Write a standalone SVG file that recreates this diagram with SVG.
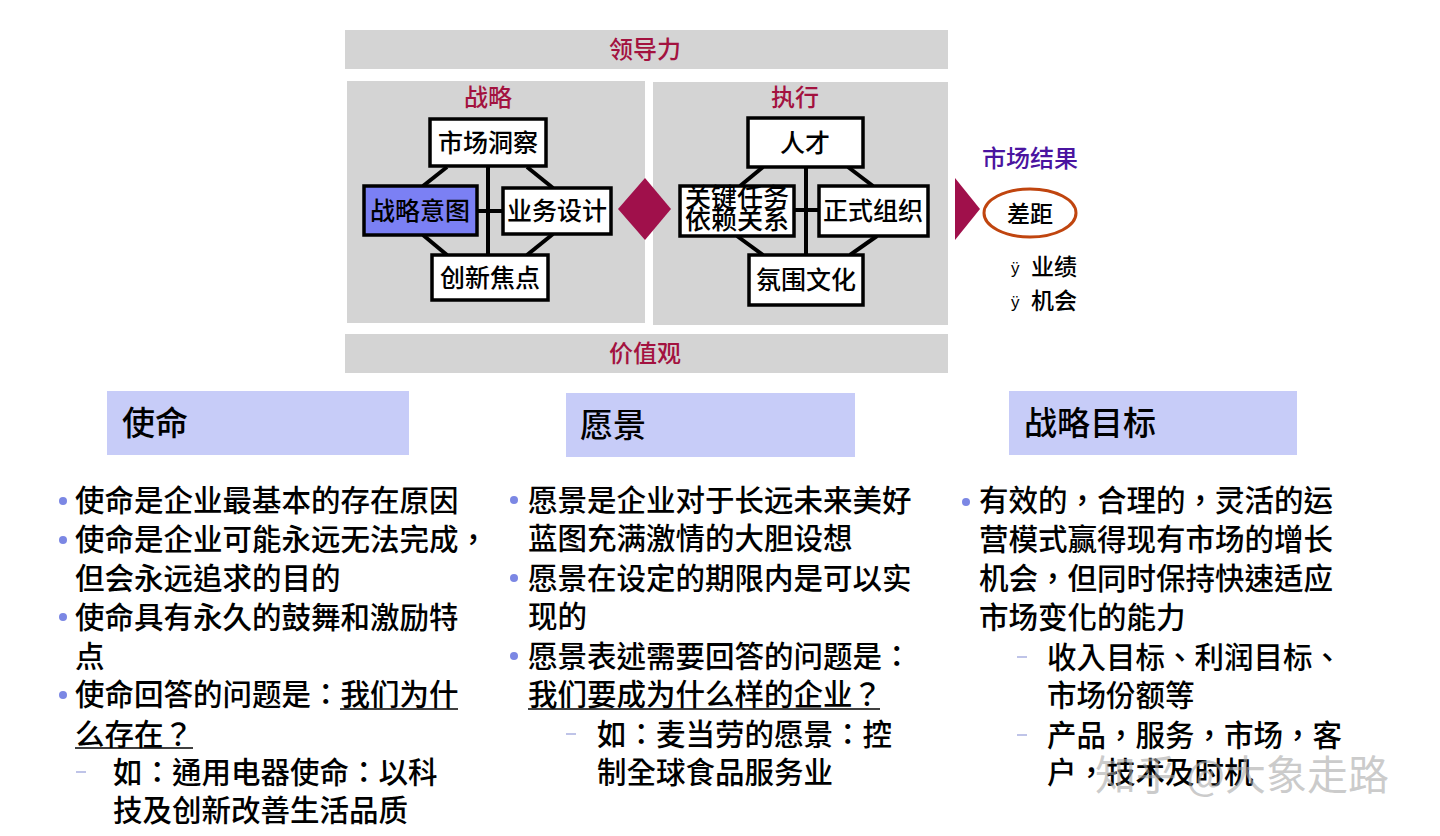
<svg xmlns="http://www.w3.org/2000/svg" width="1440" height="836" viewBox="0 0 1440 836">
<style>
text{font-family:"Noto Sans CJK SC","Noto Sans",sans-serif;font-weight:500;}
.band{fill:#d4d4d4;}
.red{fill:#a3123f;font-size:24px;text-anchor:middle;}
.node{fill:#ffffff;stroke:#000;stroke-width:3.5;}
.nt{fill:#000;font-size:25px;text-anchor:middle;}
.ln{stroke:#000;stroke-width:4;fill:none;}
.hdr{fill:#c7ccf8;}
.ht{fill:#000;font-size:33px;}
.bt{fill:#000;font-size:29.5px;font-family:"Noto Sans CJK TC","Noto Sans CJK SC",sans-serif;}
.dot{fill:#7b87e4;}
.dash{stroke:#aab0e0;stroke-width:1.5;}
.ul{stroke:#000;stroke-width:1.6;}
</style>
<rect width="1440" height="836" fill="#ffffff"/>

<g id="leadership">
<rect class="band" x="345" y="30" width="603" height="39"/>
<text class="red" x="645" y="58">领导力</text>
</g>
<g id="values">
<rect class="band" x="345" y="334" width="603" height="39"/>
<text class="red" x="645" y="362">价值观</text>
</g>
<g id="strategy-panel">
<rect class="band" x="347" y="81" width="298" height="242"/>
<text class="red" x="488" y="106">战略</text>
</g>
<g id="execution-panel">
<rect class="band" x="653" y="82" width="295" height="243"/>
<text class="red" x="795" y="106">执行</text>
</g>

<g id="connectors">
<line class="ln" x1="488" y1="166" x2="488" y2="255"/>
<line class="ln" x1="477" y1="211" x2="503" y2="211"/>
<line class="ln" x1="447" y1="167" x2="423" y2="186"/>
<line class="ln" x1="527" y1="167" x2="553" y2="188"/>
<line class="ln" x1="423" y1="235" x2="447" y2="255"/>
<line class="ln" x1="553" y1="234" x2="527" y2="255"/>
<line class="ln" x1="806" y1="167" x2="806" y2="255"/>
<line class="ln" x1="794" y1="210" x2="819" y2="210"/>
<line class="ln" x1="763" y1="167" x2="740" y2="186"/>
<line class="ln" x1="848" y1="167" x2="873" y2="186"/>
<line class="ln" x1="737" y1="236" x2="763" y2="255"/>
<line class="ln" x1="877" y1="236" x2="850" y2="255"/>
<polygon points="618,209 645,178 671,209 645,240" fill="#a0104b"/>
<polygon points="955,178 980,209 955,240" fill="#a0104b"/>
</g>

<g id="n-market-insight">
<rect class="node" x="430" y="119" width="116" height="47"/>
<text class="nt" x="488" y="152">市场洞察</text>
</g>
<g id="n-strategic-intent">
<rect class="node" x="364" y="186" width="113" height="49" style="fill:#7b80f4"/>
<text class="nt" x="420" y="220">战略意图</text>
</g>
<g id="n-business-design">
<rect class="node" x="503" y="188" width="108" height="46"/>
<text class="nt" x="557" y="220">业务设计</text>
</g>
<g id="n-innovation">
<rect class="node" x="432" y="255" width="116" height="45"/>
<text class="nt" x="490" y="287">创新焦点</text>
</g>

<g id="n-talent">
<rect class="node" x="748" y="118" width="115" height="49"/>
<text class="nt" x="805" y="152">人才</text>
</g>
<g id="n-key-tasks">
<rect class="node" x="680" y="186" width="114" height="50"/>
<text class="nt" x="737" y="207" style="font-size:26px">关键任务</text>
<text class="nt" x="737" y="229" style="font-size:26px">依赖关系</text>
</g>
<g id="n-formal-org">
<rect class="node" x="819" y="186" width="109" height="50"/>
<text class="nt" x="873" y="220">正式组织</text>
</g>
<g id="n-culture">
<rect class="node" x="749" y="255" width="114" height="50"/>
<text class="nt" x="806" y="289">氛围文化</text>
</g>

<g id="market-result">
<text x="1030" y="167" style="fill:#4a14a0;font-size:24px;text-anchor:middle">市场结果</text>
<ellipse cx="1030" cy="213" rx="46" ry="24" fill="#ffffff" stroke="#c0450f" stroke-width="3"/>
<text x="1030" y="222" style="fill:#000;font-size:23px;text-anchor:middle">差距</text>
<text x="1011" y="274" style="font-family:'Liberation Sans',sans-serif;font-size:17px;fill:#000">ÿ</text>
<text x="1031" y="275" style="fill:#000;font-size:23px">业绩</text>
<text x="1011" y="308" style="font-family:'Liberation Sans',sans-serif;font-size:17px;fill:#000">ÿ</text>
<text x="1031" y="309" style="fill:#000;font-size:23px">机会</text>
</g>

<g id="mission">
<rect class="hdr" x="107" y="391" width="302" height="64"/>
<text class="ht" x="122" y="435">使命</text>
<circle class="dot" cx="63" cy="501" r="4"/>
<circle class="dot" cx="63" cy="540" r="4"/>
<circle class="dot" cx="63" cy="617" r="4"/>
<circle class="dot" cx="63" cy="695" r="4"/>
<line class="dash" x1="76" y1="772" x2="86" y2="772"/>
<text class="bt" x="75" y="511">使命是企业最基本的存在原因</text>
<text class="bt" x="75" y="550">使命是企业可能永远无法完成，</text>
<text class="bt" x="75" y="589">但会永远追求的目的</text>
<text class="bt" x="75" y="628">使命具有永久的鼓舞和激励特</text>
<text class="bt" x="75" y="667">点</text>
<text class="bt" x="75" y="705">使命回答的问题是：我们为什</text>
<text class="bt" x="75" y="745">么存在？</text>
<text class="bt" x="113" y="783">如：通用电器使命：以科</text>
<text class="bt" x="113" y="821">技及创新改善生活品质</text>
<line class="ul" x1="340" y1="709" x2="458" y2="709"/>
<line class="ul" x1="75" y1="748" x2="193" y2="748"/>
</g>

<g id="vision">
<rect class="hdr" x="566" y="393" width="289" height="64"/>
<text class="ht" x="580" y="437">愿景</text>
<circle class="dot" cx="514" cy="500" r="4"/>
<circle class="dot" cx="514" cy="578" r="4"/>
<circle class="dot" cx="514" cy="656" r="4"/>
<line class="dash" x1="566" y1="734" x2="576" y2="734"/>
<text class="bt" x="528" y="511">愿景是企业对于长远未来美好</text>
<text class="bt" x="528" y="549">蓝图充满激情的大胆设想</text>
<text class="bt" x="528" y="589">愿景在设定的期限内是可以实</text>
<text class="bt" x="528" y="627">现的</text>
<text class="bt" x="528" y="667">愿景表述需要回答的问题是：</text>
<text class="bt" x="528" y="705">我们要成为什么样的企业？</text>
<text class="bt" x="597" y="745">如：麦当劳的愿景：控</text>
<text class="bt" x="597" y="783">制全球食品服务业</text>
<line class="ul" x1="528" y1="709" x2="880" y2="709"/>
</g>

<g id="strategic-goals">
<rect class="hdr" x="1009" y="391" width="288" height="64"/>
<text class="ht" x="1024" y="435">战略目标</text>
<circle class="dot" cx="966" cy="502" r="4"/>
<line class="dash" x1="1017" y1="657" x2="1027" y2="657"/>
<line class="dash" x1="1017" y1="735" x2="1027" y2="735"/>
<text class="bt" x="979" y="511">有效的，合理的，灵活的运</text>
<text class="bt" x="979" y="550">营模式赢得现有市场的增长</text>
<text class="bt" x="979" y="589">机会，但同时保持快速适应</text>
<text class="bt" x="979" y="628">市场变化的能力</text>
<text class="bt" x="1047" y="668">收入目标、利润目标、</text>
<text class="bt" x="1047" y="706">市场份额等</text>
<text class="bt" x="1047" y="746">产品，服务，市场，客</text>
<text class="bt" x="1047" y="783">户，技术及时机</text>
</g>

<g id="watermark">
<text x="1095" y="790" style="fill:#a8a8a8;fill-opacity:0.6;font-size:41px;font-weight:400">知乎 @大象走路</text>
</g>
</svg>
